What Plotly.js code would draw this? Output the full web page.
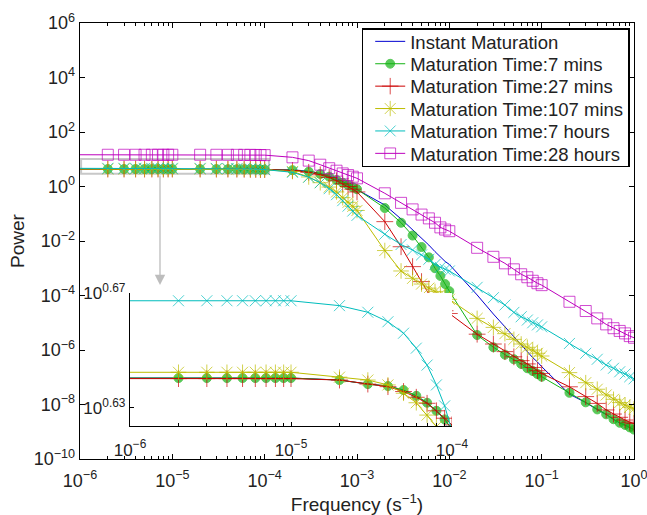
<!DOCTYPE html>
<html>
<head>
<meta charset="utf-8">
<script src="https://cdn.plot.ly/plotly-3.0.1.min.js"></script>
<style>html,body{margin:0;padding:0;background:#fff;}#chart{width:647px;height:515px;}</style>
</head>
<body>
<div id="chart"></div>
<script>
// Frequencies (s^-1)
const frequency = [
  1e-6,
  2e-6, 3e-6, 4e-6, 5e-6, 6e-6, 7e-6, 8e-6, 9e-6, 1e-5,
  2e-5, 3e-5, 4e-5, 5e-5, 6e-5, 7e-5, 8e-5, 9e-5, 1e-4,
  2e-4, 3e-4, 4e-4, 5e-4, 6e-4, 7e-4, 8e-4, 9e-4, 1e-3,
  2e-3, 3e-3, 4e-3, 5e-3, 6e-3, 7e-3, 8e-3, 9e-3, 1e-2,
  2e-2, 3e-2, 4e-2, 5e-2, 6e-2, 7e-2, 8e-2, 9e-2, 1e-1,
  0.2, 0.3, 0.4, 0.5, 0.6, 0.7, 0.8, 0.9, 1
];

// Power values given as log10(Power)
const log10PowerInstant = [
  0.6404,
  0.6404, 0.6404, 0.6404, 0.6404, 0.6404, 0.6404, 0.6404, 0.6404, 0.6404,
  0.6397, 0.6383, 0.6376, 0.6362, 0.6342, 0.6318, 0.6290, 0.6260, 0.6225,
  0.61, 0.56, 0.48, 0.39, 0.29, 0.18, 0.07, -0.03, -0.13,
  -0.68, -1.19, -1.58, -1.89, -2.15, -2.39, -2.59, -2.75, -2.86,
  -3.98, -4.68, -5.16, -5.52, -5.82, -6.07, -6.28, -6.44, -6.61,
  -7.62, -7.93, -8.19, -8.37, -8.55, -8.68, -8.76, -8.85, -8.93
];
const log10Power7min = [
  0.6404,
  0.6404, 0.6404, 0.6404, 0.6404, 0.6404, 0.6404, 0.6404, 0.6404, 0.6404,
  0.6397, 0.6383, 0.6376, 0.6362, 0.6342, 0.6318, 0.6290, 0.6260, 0.6225,
  0.60, 0.543, 0.459, 0.36, 0.239, 0.14, 0.055, -0.03, -0.10,
  -0.79, -1.33, -1.80, -2.22, -2.60, -3.00, -3.28, -3.58, -3.84,
  -5.45, -5.90, -6.17, -6.34, -6.51, -6.67, -6.77, -6.88, -6.98,
  -7.57, -7.92, -8.18, -8.36, -8.54, -8.67, -8.75, -8.84, -8.92
];
const log10Power27min = [
  0.6402,
  0.6402, 0.6402, 0.6402, 0.6402, 0.6402, 0.6402, 0.6402, 0.6402, 0.6402,
  0.6397, 0.6383, 0.6374, 0.6357, 0.6337, 0.6316, 0.6290, 0.6264, 0.6241,
  0.59, 0.52, 0.43, 0.33, 0.21, 0.10, 0.00, -0.10, -0.20,
  -1.29, -2.21, -2.94, -3.49, -3.95, -4.20, -4.42, -4.56, -4.66,
  -5.42, -5.78, -6.06, -6.25, -6.39, -6.51, -6.64, -6.76, -6.86,
  -7.35, -7.71, -7.96, -8.20, -8.35, -8.47, -8.57, -8.65, -8.70
];
const log10Power107min = [
  0.6424,
  0.6424, 0.6424, 0.6424, 0.6424, 0.6424, 0.6424, 0.6424, 0.6424, 0.6424,
  0.6407, 0.6397, 0.6380, 0.6351, 0.6318, 0.6275, 0.6235, 0.619, 0.613,
  0.55, 0.35, 0.14, -0.02, -0.20, -0.41, -0.58, -0.73, -0.88,
  -2.35, -3.10, -3.37, -3.58, -3.73, -3.85, -3.95, -4.05, -4.14,
  -4.84, -5.17, -5.40, -5.61, -5.78, -5.90, -6.00, -6.12, -6.22,
  -6.83, -7.20, -7.44, -7.65, -7.81, -7.93, -8.02, -8.10, -8.16
];
const log10Power7hours = [
  0.6673,
  0.6673, 0.6673, 0.6673, 0.6673, 0.6673, 0.6673, 0.6673, 0.6673, 0.6673,
  0.6656, 0.6633, 0.6600, 0.6560, 0.6508, 0.6449, 0.6380, 0.6307, 0.622,
  0.52, 0.34, 0.14, -0.08, -0.30, -0.52, -0.72, -0.90, -1.06,
  -1.75, -2.13, -2.33, -2.51, -2.67, -2.86, -2.97, -3.04, -3.10,
  -3.70, -4.08, -4.35, -4.62, -4.78, -4.90, -5.00, -5.08, -5.15,
  -5.76, -6.12, -6.34, -6.55, -6.67, -6.80, -6.88, -6.98, -7.06
];
const log10Power28hours = [
  1.165,
  1.165, 1.165, 1.165, 1.165, 1.165, 1.165, 1.165, 1.165, 1.165,
  1.165, 1.164, 1.163, 1.162, 1.161, 1.160, 1.158, 1.156, 1.152,
  1.07, 0.95, 0.80, 0.67, 0.58, 0.48, 0.42, 0.36, 0.30,
  -0.25, -0.60, -0.84, -1.03, -1.17, -1.33, -1.50, -1.58, -1.64,
  -2.25, -2.58, -2.82, -3.04, -3.22, -3.33, -3.46, -3.55, -3.62,
  -4.23, -4.57, -4.84, -5.06, -5.20, -5.30, -5.39, -5.49, -5.55
];

const seriesNames = [
  "Instant Maturation",
  "Maturation Time:7 mins",
  "Maturation Time:27 mins",
  "Maturation Time:107 mins",
  "Maturation Time:7 hours",
  "Maturation Time:28 hours"
];

// Tick labels
const xTickVals = [1e-6, 1e-5, 1e-4, 1e-3, 1e-2, 1e-1, 1];
const xTickText = ["10<sup>\u22126</sup>", "10<sup>\u22125</sup>", "10<sup>\u22124</sup>", "10<sup>\u22123</sup>", "10<sup>\u22122</sup>", "10<sup>\u22121</sup>", "10<sup>0</sup>"];
const yTickVals = [1e-10, 1e-8, 1e-6, 1e-4, 1e-2, 1, 1e2, 1e4, 1e6];
const yTickText = ["10<sup>\u221210</sup>", "10<sup>\u22128</sup>", "10<sup>\u22126</sup>", "10<sup>\u22124</sup>", "10<sup>\u22122</sup>", "10<sup>0</sup>", "10<sup>2</sup>", "10<sup>4</sup>", "10<sup>6</sup>"];
const insetXTickVals = [1e-6, 1e-5, 1e-4];
const insetXTickText = ["10<sup>\u22126</sup>", "10<sup>\u22125</sup>", "10<sup>\u22124</sup>"];
const insetYTickExp = [0.63, 0.67];
const insetYTickText = ["10<sup>0.63</sup>", "10<sup>0.67</sup>"];

// ---- build ----
const toPower = arr => arr.map(v => Math.pow(10, v));
const styles = [
  {data: log10PowerInstant, color: '#0000d0', symbol: null},
  {data: log10Power7min, color: '#14b414', symbol: 'circle', size: 9},
  {data: log10Power27min, color: '#cc0000', symbol: 'cross-thin-open', size: 12},
  {data: log10Power107min, color: '#bdbd00', symbol: 'asterisk-open', size: 13},
  {data: log10Power7hours, color: '#00bdbd', symbol: 'x-thin-open', size: 11},
  {data: log10Power28hours, color: '#bd00bd', symbol: 'square-open', size: 11}
];

const traces = [];
['main', 'inset'].forEach(panel => {
  styles.forEach((s, i) => {
    const t = {
      x: frequency,
      y: toPower(s.data),
      name: seriesNames[i],
      type: 'scatter',
      xaxis: panel === 'main' ? 'x' : 'x2',
      yaxis: panel === 'main' ? 'y' : 'y2',
      showlegend: panel === 'main',
      line: {color: s.color, width: 1},
      hoverinfo: 'skip'
    };
    if (s.symbol) {
      t.mode = 'lines+markers';
      t.marker = {
        symbol: s.symbol,
        size: frequency.map((f, k) => k === 0 ? 0 : s.size),
        color: s.color,
        line: {color: s.color, width: 1}
      };
    } else {
      t.mode = 'lines';
    }
    traces.push(t);
  });
});

const minorX = [];
for (let m = -6; m < 0; m++) for (let k = 2; k <= 9; k++) minorX.push(k * Math.pow(10, m));
const minorInsetX = minorX.filter(v => v < 1e-4);

const font = {family: 'Liberation Sans, Arial, sans-serif', color: '#222'};

const layout = {
  width: 647, height: 515,
  margin: {l: 80, r: 13, t: 23, b: 56},
  paper_bgcolor: '#fff', plot_bgcolor: '#fff',
  font: Object.assign({size: 18}, font),
  showlegend: true,
  legend: {
    x: 0.5085, y: 0.9878, xanchor: 'left', yanchor: 'top',
    bgcolor: '#fff', bordercolor: '#000', borderwidth: 1.5,
    font: Object.assign({size: 18.5}, font),
    tracegroupgap: 0
  },
  xaxis: {
    type: 'log', range: [-6, 0], domain: [0, 1], anchor: 'y',
    tickmode: 'array', tickvals: xTickVals, ticktext: xTickText,
    ticks: 'inside', ticklen: 5, tickwidth: 1, tickcolor: '#000',
    showline: true, linecolor: '#000', linewidth: 1.3, mirror: 'ticks',
    showgrid: false, zeroline: false, ticklabeloverflow: 'allow',
    ticklabelstandoff: 5,
    tickfont: Object.assign({size: 18}, font),
    minor: {tickmode: 'array', tickvals: minorX, ticks: 'inside', ticklen: 3, tickcolor: '#000', showgrid: false},
    title: {text: 'Frequency (s<sup>\u22121</sup>)', font: Object.assign({size: 19}, font), standoff: 8}
  },
  yaxis: {
    type: 'log', range: [-10, 6], domain: [0, 1], anchor: 'x',
    tickmode: 'array', tickvals: yTickVals, ticktext: yTickText,
    ticks: 'inside', ticklen: 5, tickwidth: 1, tickcolor: '#000',
    showline: true, linecolor: '#000', linewidth: 1.3, mirror: 'ticks',
    showgrid: false, zeroline: false, ticklabeloverflow: 'allow',
    tickfont: Object.assign({size: 18}, font),
    title: {text: 'Power', font: Object.assign({size: 19}, font), standoff: 4}
  },
  xaxis2: {
    type: 'log', range: [-6, -4], domain: [0.0903, 0.6715], anchor: 'y2',
    tickmode: 'array', tickvals: insetXTickVals, ticktext: insetXTickText,
    ticks: 'inside', ticklen: 4, tickwidth: 1, tickcolor: '#000',
    showline: true, linecolor: '#000', linewidth: 1.2, mirror: false,
    showgrid: false, zeroline: false, ticklabeloverflow: 'allow',
    ticklabelstandoff: 8,
    tickfont: Object.assign({size: 17}, font),
    minor: {tickmode: 'array', tickvals: minorInsetX, ticks: 'inside', ticklen: 3, tickcolor: '#000', showgrid: false}
  },
  yaxis2: {
    type: 'log', range: [0.6237, 0.670], domain: [0.0757, 0.3807], anchor: 'x2',
    tickmode: 'array', tickvals: insetYTickExp.map(e => Math.pow(10, e)), ticktext: insetYTickText,
    ticks: 'inside', ticklen: 4, tickwidth: 1, tickcolor: '#000',
    showline: true, linecolor: '#000', linewidth: 1.2, mirror: false,
    showgrid: false, zeroline: false, ticklabeloverflow: 'allow',
    tickfont: Object.assign({size: 17}, font)
  },
  shapes: [
    {type: 'rect', xref: 'paper', yref: 'paper', x0: 0.002, x1: 0.341, y0: 0.654, y1: 0.688,
     line: {color: '#c8c8c8', width: 2}, fillcolor: 'rgba(0,0,0,0)', layer: 'below'}
  ],
  annotations: [
    {xref: 'paper', yref: 'paper', x: 0.1444, y: 0.399, ax: 0, ay: -111, axref: 'pixel', ayref: 'pixel',
     text: '', showarrow: true, arrowhead: 2, arrowsize: 1.6, arrowwidth: 1.3, arrowcolor: '#bdbdbd'}
  ]
};

Plotly.newPlot('chart', traces, layout, {displayModeBar: false, staticPlot: true}).then(gd => {
  // tighten legend row spacing to match the reference
  const items = Array.from(gd.querySelectorAll('.legend .traces'));
  if (items.length < 2) return;
  const pos = items.map(g => {
    const m = /translate\(\s*([-\d.e]+)[\s,]+([-\d.e]+)\s*\)/.exec(g.getAttribute('transform') || '');
    return m ? [parseFloat(m[1]), parseFloat(m[2])] : [0, 0];
  });
  const orig = pos[1][1] - pos[0][1];
  const rowGap = 22.4;
  const dx = 7;
  items.forEach((g, i) => g.setAttribute('transform', 'translate(' + (pos[i][0] + dx) + ',' + (pos[0][1] - 7 + i * rowGap) + ')'));
  const sb = gd.querySelector('.legend .scrollbox');
  if (sb) sb.removeAttribute('clip-path');
  const bg = gd.querySelector('.legend rect.bg');
  if (bg) {
    const h = parseFloat(bg.getAttribute('height'));
    const w = parseFloat(bg.getAttribute('width'));
    bg.setAttribute('height', h - (orig - rowGap) * (items.length - 1) - 14);
    bg.setAttribute('width', w + dx);
  }
});
</script>
</body>
</html>
